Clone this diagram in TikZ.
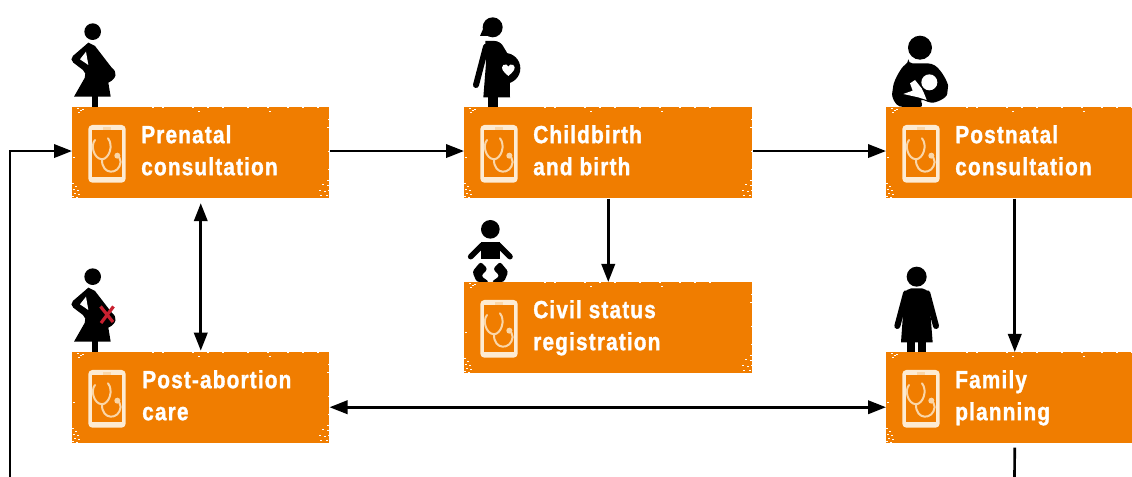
\documentclass[tikz,border=0pt]{standalone}
\usepackage{fontspec}
\setmainfont[FakeStretch=0.84,LetterSpace=4.6,BoldFeatures={FakeBold=1.2}]{Liberation Sans}
\usetikzlibrary{arrows.meta}
\definecolor{boxorange}{HTML}{F07D00}
\definecolor{tabletpale}{HTML}{FDEBD3}
\definecolor{scopepale}{HTML}{FAD6A8}
\definecolor{crossred}{HTML}{C8202F}
\tikzset{
  zoomed/.style={x=.25pt,y=-.25pt},
  box/.style={fill=boxorange,rectangle,inner sep=0pt,anchor=north west,minimum height=68.25pt},
  boxlabel/.style={anchor=west,inner sep=0pt,align=left,text=white,font=\bfseries\fontsize{18.6pt}{24pt}\selectfont},
  flow/.style={line width=2pt,-{Triangle[length=13.5pt,width=10pt]}},
  flowboth/.style={line width=2pt,{Triangle[length=13.5pt,width=10pt]}-{Triangle[length=13.5pt,width=10pt]}},
  pics/tablet/.style={code={
    \begin{scope}[zoomed]
      \fill[tabletpale,rounded corners=3pt] (49,54) rectangle (161,227);
      \fill[boxorange] (59,69) rectangle (151,209);
      \fill[scopepale] (92,60) rectangle (116,68);
      \draw[scopepale,line width=1.5pt,line cap=round] (69,99) .. controls (55,115) and (65,155) .. (90,157) .. controls (112,155) and (125,115) .. (108,94);
      \draw[scopepale,line width=1.5pt] (90,157) .. controls (88,205) and (142,205) .. (146,165) .. controls (146,155) and (140,148) .. (134,144);
      \fill[scopepale] (136,146) circle (9);
    \end{scope}}},
  pics/pregnant/.style={code={
    \begin{scope}[zoomed]
      \fill (278,95) circle (25);
      \fill[rounded corners=4pt] (265,128) -- (207,178) -- (262,220) [sharp corners] -- (222,290) -- (332,290) -- (325,248) .. controls (352,235) and (352,215) .. (335,203) -- (285,138) -- cycle;
      \fill[white] (258,155) -- (240,178) -- (265,195) -- cycle;
      \fill (277,285) rectangle (295,325);
    \end{scope}}}
}
\newcommand{\twolines}[2]{\strut #1\\\strut #2}
\newcommand{\roughedge}[1]{
  \foreach \dx/\dy in {5/1,8/3,6/5,10/2,80/0,90/0,120/0,135/0,150/0,175/0,195/0,215/0,126/4,197/4,230/0,245/0}{
    \fill[white] ([shift={(\dx,\dy)}]#1.north west) rectangle +(1.8,1.2);
  }
  \foreach \dx/\dy in {0/-16,3/-13,1/-10,5/-9,2/-6,6/-5,0/-3,4/-2,9/-1,1/-42,30/-1,120/-1,200/-1}{
    \fill[white] ([shift={(\dx,\dy)}]#1.south west) rectangle +(1.8,1.3);
  }
}
\newcommand{\roughright}[1]{
  \foreach \dx/\dy in {-3/-19,-8/-15,-3/-14,-11/-9,-6/-8,-2/-9,-10/-4,-4/-4,-1/-2,-2/-30,-2/-48,-3/-72,-2/-80}{
    \fill[white] ([shift={(\dx,\dy)}]#1.south east) rectangle +(2.2,1.4);
  }
}
\begin{document}
\begin{tikzpicture}[x=.75pt,y=-.75pt]
  \path[use as bounding box,clip] (0,0) rectangle (1132,477);

  \pic at (0,0) {pregnant};
  \pic at (0,245) {pregnant};
  % mother with a heart
  \begin{scope}[shift={(450,0)},zoomed]
    \fill (128,82) circle (30);
    \fill (100,85) -- (90,108) -- (130,108) -- cycle;
    \fill[rounded corners=4pt] (106,123) -- (150,123) -- (178,170) [sharp corners] -- (180,292) -- (100,292) -- (108,190) -- cycle;
    \fill (165,205) circle (46);
    \draw[line width=4.5pt,line cap=round] (108,140) -- (78,255);
    \fill (115,288) rectangle (143,325);
    \fill[white] (175,228) .. controls (160,215) and (150,205) .. (160,195) .. controls (167,190) and (173,195) .. (175,200) .. controls (177,195) and (183,190) .. (190,195) .. controls (200,205) and (190,215) .. (175,228);
  \end{scope}
  % baby
  \begin{scope}[shift={(450,200)},zoomed]
    \fill (121,88) circle (28);
    \fill (92,125) rectangle (150,178);
    \draw[line width=4.2pt,line cap=round] (97,135) -- (62,170) (145,135) -- (180,170);
    \fill[rounded corners=2pt] (92,185) -- (113,207) -- (93,228) -- (118,246) -- (80,246) -- (67,215) -- cycle;
    \fill[rounded corners=2pt] (150,185) -- (129,207) -- (149,228) -- (124,246) -- (162,246) -- (175,215) -- cycle;
  \end{scope}
  % mother and child
  \begin{scope}[shift={(870,20)},zoomed]
    \fill (150,83) circle (36);
    \fill[rounded corners=3pt] (115,130) -- (185,130) .. controls (215,150) and (235,190) .. (233,210) .. controls (230,235) and (195,250) .. (172,246) -- (150,235) -- (160,262) -- (100,262) .. controls (75,255) and (65,230) .. (68,210) .. controls (72,180) and (95,140) .. cycle;
    \fill[white] (178,187) circle (24);
    \fill[white] (100,222) -- (128,212) -- (120,190) -- (135,180) -- (155,205) -- (163,222) -- (170,240) -- (145,232) -- cycle;
  \end{scope}
  % woman
  \begin{scope}[shift={(870,250)},zoomed]
    \fill (140,80) circle (30);
    \fill[rounded corners=4pt] (108,115) -- (172,115) -- (178,150) [sharp corners] -- (188,277) -- (93,277) [rounded corners=4pt] -- (102,150) -- cycle;
    \draw[line width=4.5pt,line cap=round] (108,130) -- (82,228) (172,130) -- (198,228);
    \fill (112,275) rectangle (135,307);
    \fill (145,275) rectangle (168,307);
  \end{scope}

  \node[box,minimum width=192.75pt] (prenatal) at (72,107) {};
  \node[box,minimum width=216pt] (childbirth) at (464,107) {};
  \node[box,minimum width=192.75pt] (postnatal) at (886,107) {};
  \node[box,minimum width=192.75pt] (postabortion) at (72,352) {};
  \node[box,minimum width=216pt] (civil) at (464,282) {};
  \node[box,minimum width=192.75pt] (family) at (886,352) {};

  \foreach \boxname in {prenatal,childbirth,postnatal,postabortion,civil,family}{
    \pic at (\boxname.north west) {tablet};
    \roughedge{\boxname}
  }
  \foreach \boxname in {prenatal,childbirth,postabortion,civil}{
    \roughright{\boxname}
  }

  % red cross on the belly
  \draw[crossred,line width=2.4pt] (100.5,306.5) -- (113,322) (113.5,306.5) -- (101,323);

  \node[boxlabel] (prenataltext) at ([xshift=51.75pt]prenatal.west) {\twolines{Prenatal}{consultation}};
  \node[boxlabel] (childbirthtext) at ([xshift=51.75pt]childbirth.west) {\twolines{Childbirth}{and birth}};
  \node[boxlabel] (postnataltext) at ([xshift=51.75pt]postnatal.west) {\twolines{Postnatal}{consultation}};
  \node[boxlabel] (postabortiontext) at ([xshift=52.5pt]postabortion.west) {\twolines{Post-abortion}{care}};
  \node[boxlabel] (civiltext) at ([xshift=51.75pt]civil.west) {\twolines{Civil status}{registration}};
  \node[boxlabel] (familytext) at ([xshift=51.75pt]family.west) {\twolines{Family}{planning}};

  \coordinate (loopend) at (10,480);
  \coordinate (familyend) at (1014.5,480);

  \draw[flow] ([yshift=1.3pt]prenatal.east) -- ([yshift=1.3pt]childbirth.west);
  \draw[flow] ([yshift=1.3pt]childbirth.east) -- ([yshift=1.3pt]postnatal.west);
  \draw[flow] (childbirth.south) -- (civil.north);
  \draw[flow] (postnatal.south) -- (family.north);
  \draw[flowboth,shorten <=3.5pt,shorten >=1pt] (prenatal.south) -- (postabortion.north);
  \draw[flowboth] ([yshift=-7.1pt]postabortion.east) -- ([yshift=-7.1pt]family.west);
  \draw[flow] (loopend) |- ([yshift=1.3pt]prenatal.west);
  \draw[line width=2pt,shorten <=3pt] (family.south) -- (familyend);
\end{tikzpicture}
\end{document}
